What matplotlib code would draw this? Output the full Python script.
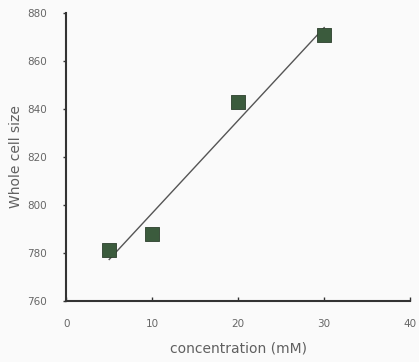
import numpy as np
import matplotlib
matplotlib.use('Agg')
import matplotlib.pyplot as plt

# data
conc = np.array([5, 10, 20, 30])
cellSize = np.array([781, 788, 843, 871])
xTicks = [0, 10, 20, 30, 40]
yTicks = [760, 780, 800, 820, 840, 860, 880]

f = plt.figure(figsize=(4.19, 3.62), dpi=100, facecolor='#fafafa')
ax = f.add_axes([0.158, 0.169, 0.821, 0.795])
ax.set_facecolor('#fafafa')

# least squares line through the points
slope, icept = np.polyfit(conc, cellSize, 1)
xl = np.array([conc.min(), conc.max()])
ax.plot(xl, slope*xl + icept, color='#555555', lw=1.0, zorder=2)
ax.scatter(conc, cellSize, marker='s', s=90, color='#3b5b3d', edgecolors='#2c3f2c', linewidths=0.6, zorder=3)

ax.set_xlim(0, 40)
ax.set_ylim(760, 880)
ax.set_xticks(xTicks)
ax.set_yticks(yTicks)
ax.tick_params(axis='x', direction='in', length=3, width=1, colors='#333333', labelcolor='#666666', labelsize=7.5, pad=13)
ax.tick_params(axis='y', direction='out', length=2, width=1, colors='#333333', labelcolor='#666666', labelsize=7.5, pad=12)
for s in ['top', 'right']:
    ax.spines[s].set_visible(False)
for s in ['left', 'bottom']:
    ax.spines[s].set_linewidth(1.5)
    ax.spines[s].set_color('#333333')

ax.set_xlabel('concentration (mM)', fontsize=10, color='#606060', labelpad=9)
ax.set_ylabel('Whole cell size', fontsize=10, color='#606060', labelpad=3)

f.savefig('out.png', dpi=100, facecolor=f.get_facecolor())
